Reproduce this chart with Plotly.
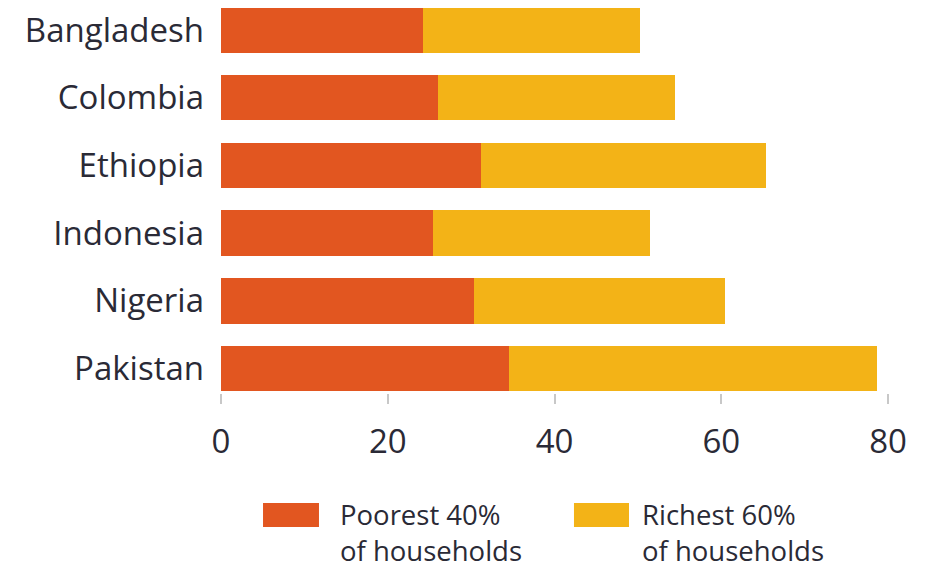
import plotly.graph_objects as go

countries = ["Bangladesh", "Colombia", "Ethiopia", "Indonesia", "Nigeria", "Pakistan"]
poorest_40 = [24.2, 26.0, 31.2, 25.4, 30.3, 34.5]
richest_60 = [26.1, 28.5, 34.2, 26.1, 30.2, 44.2]
x_ticks = [0, 20, 40, 60, 80]
legend_labels = [("Poorest 40%", "of households"), ("Richest 60%", "of households")]

ORANGE = "#E25620"
YELLOW = "#F3B317"
TEXT = "#2a2a36"
FONT = "Open Sans"

fig = go.Figure()
fig.add_trace(go.Bar(y=countries, x=poorest_40, orientation="h", marker=dict(color=ORANGE, line=dict(width=0)),
                     name=" ".join(legend_labels[0]), showlegend=False))
fig.add_trace(go.Bar(y=countries, x=richest_60, orientation="h", marker=dict(color=YELLOW, line=dict(width=0)),
                     name=" ".join(legend_labels[1]), showlegend=False))

# legend drawn as swatches + text
sw = [(0.063, 0.1469, 0.1754), (0.5292, 0.6117, 0.6282)]
colors = [ORANGE, YELLOW]
for (x0, x1, tx), c, (l1, l2) in zip(sw, colors, legend_labels):
    fig.add_shape(type="rect", xref="paper", yref="paper", x0=x0, x1=x1, y0=-0.348, y1=-0.2857,
                  fillcolor=c, line=dict(width=0))
    fig.add_annotation(xref="paper", yref="paper", x=tx, y=-0.3636, text=l1 + "<br>" + l2, showarrow=False,
                       xanchor="left", yanchor="middle", align="left",
                       font=dict(family=FONT, size=27.5, color=TEXT))

fig.update_layout(
    barmode="stack",
    bargap=0.328,
    width=923, height=562,
    margin=dict(l=213, r=43, t=0, b=177),
    paper_bgcolor="white", plot_bgcolor="white",
    font=dict(family=FONT, color=TEXT),
    xaxis=dict(range=[0, 80], tickvals=x_ticks, showgrid=False, zeroline=False, showline=False,
               ticks="outside", ticklen=10, tickcolor="#c8c8c8", tickwidth=1.5,
               tickfont=dict(family=FONT, size=33, color=TEXT), ticklabelstandoff=9),
    yaxis=dict(categoryorder="array", categoryarray=countries, range=[5.362, -0.325],
               showgrid=False, zeroline=False, showline=False, ticks="",
               tickfont=dict(family=FONT, size=33, color=TEXT), ticklabelstandoff=16),
)

fig.write_html("out.html")
